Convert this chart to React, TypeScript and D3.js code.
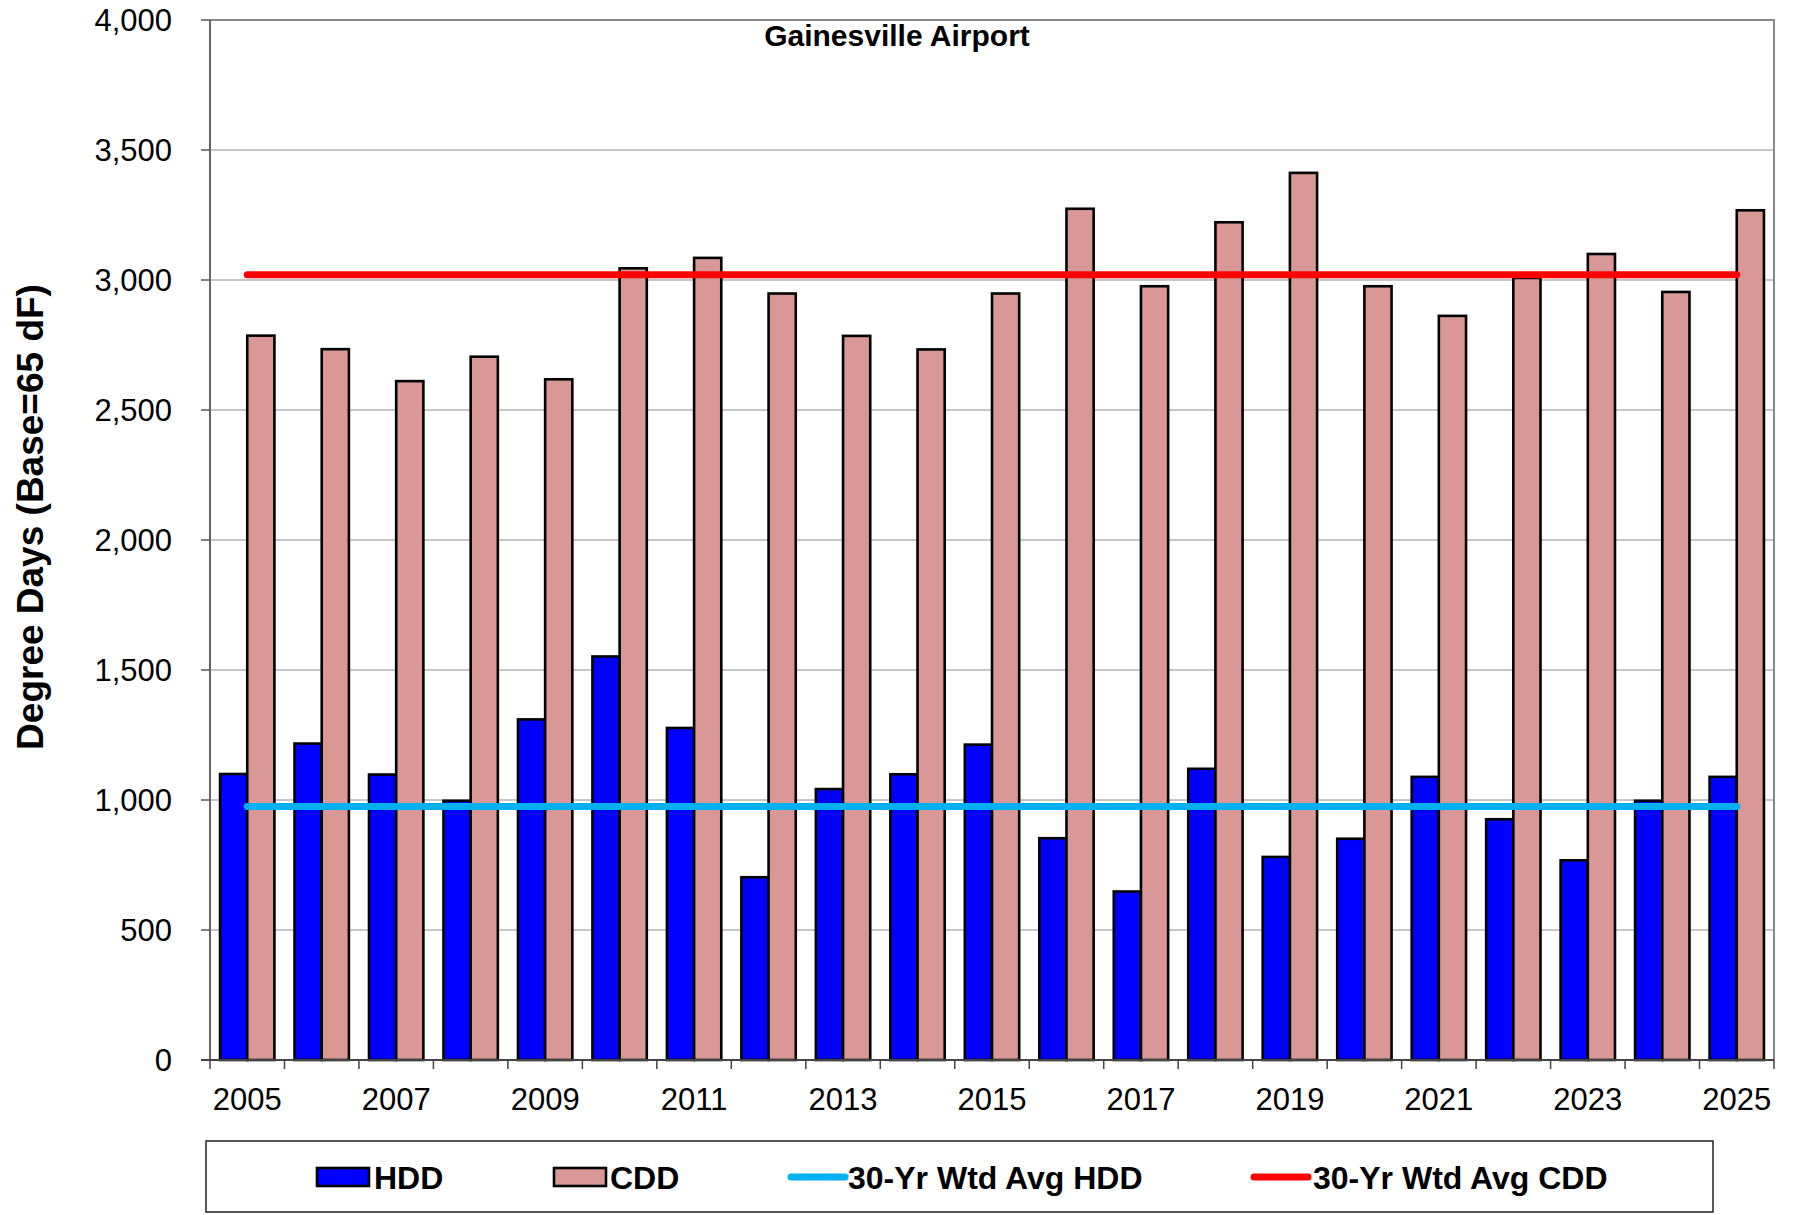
import React, { useEffect, useRef } from "react";
import * as d3 from "d3";

const years = [
  "2005", "2006", "2007", "2008", "2009", "2010", "2011", "2012", "2013", "2014",
  "2015", "2016", "2017", "2018", "2019", "2020", "2021", "2022", "2023", "2024", "2025",
];
const hdd = [
  1100, 1217, 1098, 997, 1310, 1552, 1277, 703, 1042, 1099,
  1213, 853, 648, 1120, 781, 851, 1089, 926, 768, 997, 1089,
];
const cdd = [
  2786, 2734, 2611, 2705, 2618, 3045, 3085, 2948, 2785, 2733,
  2948, 3274, 2976, 3222, 3412, 2976, 2862, 3008, 3100, 2954, 3268,
];
const avgHdd = 975;
const avgCdd = 3020;
const yTicks = [0, 500, 1000, 1500, 2000, 2500, 3000, 3500, 4000];
const xTickLabels = ["2005", "2007", "2009", "2011", "2013", "2015", "2017", "2019", "2021", "2023", "2025"];
const seriesNames = ["HDD", "CDD"];

const W = 1797;
const H = 1215;
const FONT = "'Liberation Sans', Arial, sans-serif";

const App: React.FC = () => {
  const svgRef = useRef<SVGSVGElement>(null);

  useEffect(() => {
    if (!svgRef.current) return;
    d3.select(svgRef.current).selectAll("*").remove();
    const svg = d3.select(svgRef.current);

    const left = 210;
    const right = 1774;
    const top = 20;
    const bottom = 1060;

    const x = d3.scaleBand().domain(years).range([left, right]).padding(0);
    const xs = d3
      .scaleBand()
      .domain(seriesNames)
      .range([0, x.bandwidth()])
      .paddingInner(0)
      .paddingOuter(0.37);
    const y = d3.scaleLinear().domain([0, 4000]).range([bottom, top]);

    // gridlines
    svg
      .append("g")
      .selectAll("line")
      .data(yTicks.slice(1, -1))
      .enter()
      .append("line")
      .attr("x1", left)
      .attr("x2", right)
      .attr("y1", (d) => y(d))
      .attr("y2", (d) => y(d))
      .attr("stroke", "#8c8c8c")
      .attr("stroke-width", 1);

    // plot border (top, right)
    svg
      .append("path")
      .attr("d", `M${left},${top}H${right}V${bottom}`)
      .attr("fill", "none")
      .attr("stroke", "#888")
      .attr("stroke-width", 2);

    // bars
    const rows = years.map((yr, i) => ({ year: yr, HDD: hdd[i], CDD: cdd[i] }));
    const colors: Record<string, string> = { HDD: "#0000ff", CDD: "#d99795" };
    const groups = svg
      .append("g")
      .selectAll("g")
      .data(rows)
      .enter()
      .append("g")
      .attr("transform", (d) => `translate(${x(d.year)},0)`);
    groups
      .selectAll("rect")
      .data((d) => seriesNames.map((s) => ({ key: s, value: (d as any)[s] as number })))
      .enter()
      .append("rect")
      .attr("x", (d) => xs(d.key) || 0)
      .attr("y", (d) => y(d.value))
      .attr("width", xs.bandwidth())
      .attr("height", (d) => bottom - y(d.value))
      .attr("fill", (d) => colors[d.key])
      .attr("stroke", "#000")
      .attr("stroke-width", 2.6);

    // average lines
    const x0 = (x(years[0]) || 0) + x.bandwidth() / 2;
    const x1 = (x(years[years.length - 1]) || 0) + x.bandwidth() / 2;
    [
      { v: avgHdd, c: "#00b0f0" },
      { v: avgCdd, c: "#ff0000" },
    ].forEach((l) => {
      svg
        .append("line")
        .attr("x1", x0)
        .attr("x2", x1)
        .attr("y1", y(l.v))
        .attr("y2", y(l.v))
        .attr("stroke", l.c)
        .attr("stroke-width", 7)
        .attr("stroke-linecap", "round");
    });

    // y axis
    const yAxis = svg.append("g");
    yAxis
      .append("line")
      .attr("x1", left)
      .attr("x2", left)
      .attr("y1", top)
      .attr("y2", bottom)
      .attr("stroke", "#666")
      .attr("stroke-width", 2);
    yAxis
      .selectAll(".yt")
      .data(yTicks)
      .enter()
      .append("line")
      .attr("x1", left - 9)
      .attr("x2", left)
      .attr("y1", (d) => y(d))
      .attr("y2", (d) => y(d))
      .attr("stroke", "#555")
      .attr("stroke-width", 1.5);
    yAxis
      .selectAll("text")
      .data(yTicks)
      .enter()
      .append("text")
      .attr("x", 172)
      .attr("y", (d) => y(d) + 11)
      .attr("text-anchor", "end")
      .style("font-family", FONT)
      .style("font-size", "31px")
      .text((d) => d3.format(",")(d));

    // x axis
    const xAxis = svg.append("g");
    xAxis
      .append("line")
      .attr("x1", left - 9)
      .attr("x2", right)
      .attr("y1", bottom)
      .attr("y2", bottom)
      .attr("stroke", "#444")
      .attr("stroke-width", 2);
    xAxis
      .selectAll(".xt")
      .data(years.concat(["end"]))
      .enter()
      .append("line")
      .attr("x1", (d) => (d === "end" ? right : x(d) || 0))
      .attr("x2", (d) => (d === "end" ? right : x(d) || 0))
      .attr("y1", bottom)
      .attr("y2", bottom + 9)
      .attr("stroke", "#444")
      .attr("stroke-width", 1.5);
    xAxis
      .selectAll("text")
      .data(xTickLabels)
      .enter()
      .append("text")
      .attr("x", (d) => (x(d) || 0) + x.bandwidth() / 2)
      .attr("y", 1110)
      .attr("text-anchor", "middle")
      .style("font-family", FONT)
      .style("font-size", "31px")
      .text((d) => d);

    // title
    svg
      .append("text")
      .attr("x", 897)
      .attr("y", 46)
      .attr("text-anchor", "middle")
      .style("font-family", FONT)
      .style("font-size", "30px")
      .style("font-weight", "bold")
      .text("Gainesville Airport");

    // y label
    svg
      .append("text")
      .attr("transform", `translate(43,517) rotate(-90)`)
      .attr("text-anchor", "middle")
      .style("font-family", FONT)
      .style("font-size", "37px")
      .style("font-weight", "bold")
      .text("Degree Days (Base=65 dF)");

    // legend
    const lg = svg.append("g");
    lg.append("rect")
      .attr("x", 206)
      .attr("y", 1141)
      .attr("width", 1507)
      .attr("height", 71)
      .attr("fill", "#fff")
      .attr("stroke", "#222")
      .attr("stroke-width", 1.5);
    const items = [
      { label: "HDD", kind: "rect", color: colors.HDD, sx: 317, tx: 374 },
      { label: "CDD", kind: "rect", color: colors.CDD, sx: 554, tx: 610 },
      { label: "30-Yr Wtd Avg HDD", kind: "line", color: "#00b0f0", sx: 791, tx: 848 },
      { label: "30-Yr Wtd Avg CDD", kind: "line", color: "#ff0000", sx: 1254, tx: 1313 },
    ];
    items.forEach((it) => {
      if (it.kind === "rect") {
        lg.append("rect")
          .attr("x", it.sx)
          .attr("y", 1168)
          .attr("width", 52)
          .attr("height", 18)
          .attr("fill", it.color)
          .attr("stroke", "#000")
          .attr("stroke-width", 2.6);
      } else {
        lg.append("line")
          .attr("x1", it.sx)
          .attr("x2", it.sx + 54)
          .attr("y1", 1177)
          .attr("y2", 1177)
          .attr("stroke", it.color)
          .attr("stroke-width", 7)
          .attr("stroke-linecap", "round");
      }
      lg.append("text")
        .attr("x", it.tx)
        .attr("y", 1189)
        .style("font-family", FONT)
        .style("font-size", "32px")
        .style("font-weight", "bold")
        .text(it.label);
    });
  }, []);

  return (
    <svg
      ref={svgRef}
      width={W}
      height={H}
      style={{ position: "absolute", left: 0, top: 0, background: "#fff" }}
    />
  );
};

export default App;
